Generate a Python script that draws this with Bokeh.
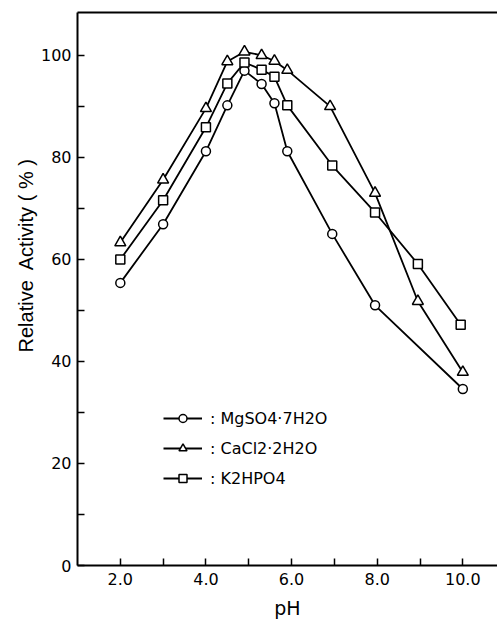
from bokeh.plotting import figure
from bokeh.models import (Range1d, FixedTicker, LinearAxis, Title, Legend, LegendItem)
from bokeh.embed import file_html
from bokeh.resources import INLINE

# ---- data ----
ph_mg = [2.0, 3.0, 4.0, 4.5, 4.9, 5.3, 5.6, 5.9, 6.95, 7.95, 10.0]
act_mg = [55.4, 66.9, 81.2, 90.2, 97.0, 94.4, 90.6, 81.2, 65.0, 51.0, 34.6]

ph_ca = [2.0, 3.0, 4.0, 4.5, 4.9, 5.3, 5.6, 5.9, 6.9, 7.95, 8.95, 10.0]
act_ca = [63.3, 75.6, 89.6, 98.8, 100.7, 100.0, 98.9, 97.1, 90.0, 73.0, 51.8, 37.9]

ph_k = [2.0, 3.0, 4.0, 4.5, 4.9, 5.3, 5.6, 5.9, 6.95, 7.95, 8.95, 9.95]
act_k = [60.0, 71.6, 85.9, 94.5, 98.6, 97.2, 95.8, 90.2, 78.4, 69.2, 59.1, 47.2]

labels = [": MgSO4·7H2O", ": CaCl2·2H2O", ": K2HPO4"]
x_ticks = [2, 3, 4, 5, 6, 7, 8, 9, 10]
x_tick_labels = {2: "2.0", 3: "", 4: "4.0", 5: "", 6: "6.0", 7: "", 8: "8.0", 9: "", 10: "10.0"}
y_ticks = [0, 10, 20, 30, 40, 50, 60, 70, 80, 90, 100]
y_tick_labels = {0: "0", 10: "", 20: "20", 30: "", 40: "40", 50: "", 60: "60", 70: "", 80: "80", 90: "", 100: "100"}

FONT = "DejaVu Sans"

p = figure(width=497, height=623, output_backend="svg", toolbar_location=None,
           x_range=Range1d(1.0, 10.81), y_range=Range1d(0, 108.4),
           min_border_left=77, min_border_right=0, min_border_top=12, min_border_bottom=58)
p.outline_line_color = None
p.grid.visible = False
p.background_fill_color = "white"
p.border_fill_color = "white"

for ax in (p.xaxis[0], p.yaxis[0]):
    ax.axis_line_width = 2
    ax.axis_line_color = "black"
    ax.major_tick_in = 7
    ax.major_tick_out = 0
    ax.major_tick_line_width = 1.5
    ax.minor_tick_line_color = None
    ax.major_label_text_font = FONT
    ax.major_label_text_font_size = "16px"
    ax.major_label_text_color = "black"

p.xaxis.ticker = FixedTicker(ticks=x_ticks)
p.xaxis.major_label_overrides = x_tick_labels
p.xaxis.major_label_standoff = 7
p.xaxis.axis_label = "pH"
p.xaxis.axis_label_text_font = FONT
p.xaxis.axis_label_text_font_style = "normal"
p.xaxis.axis_label_text_font_size = "19px"
p.xaxis.axis_label_text_color = "black"
p.xaxis.axis_label_standoff = 9

p.yaxis.ticker = FixedTicker(ticks=y_ticks)
p.yaxis.major_label_overrides = y_tick_labels
p.yaxis.major_label_standoff = 6

top = LinearAxis(ticker=FixedTicker(ticks=[]), major_label_text_font_size="0px",
                 major_tick_line_color=None, minor_tick_line_color=None,
                 axis_line_width=2, axis_line_color="black")
p.add_layout(top, "above")

ytitle = Title(text="Relative\u00a0 Activity ( % )", align="left", offset=213,
               text_font="Liberation Sans", text_font_size="20px",
               text_font_style="normal", text_color="black", standoff=2)
p.add_layout(ytitle, "left")

series = [(ph_mg, act_mg, "circle", 9), (ph_ca, act_ca, "triangle", 11), (ph_k, act_k, "square", 9)]
items = []
for (xs, ys, mk, sz), lab in zip(series, labels):
    ln = p.line(xs, ys, line_color="black", line_width=1.8)
    sc = p.scatter(xs, ys, marker=mk, size=sz, fill_color="white", line_color="black", line_width=1.5)
    items.append(LegendItem(label=lab, renderers=[ln, sc]))

leg = Legend(items=items, location=(86, 77), orientation="vertical",
             glyph_width=39, glyph_height=20, label_height=20, spacing=10,
             label_standoff=8, padding=0, margin=0,
             background_fill_alpha=0, border_line_color=None,
             label_text_font=FONT, label_text_font_size="16px", label_text_color="black")
p.add_layout(leg, "center")

open("out.html", "w").write(file_html(p, INLINE))
